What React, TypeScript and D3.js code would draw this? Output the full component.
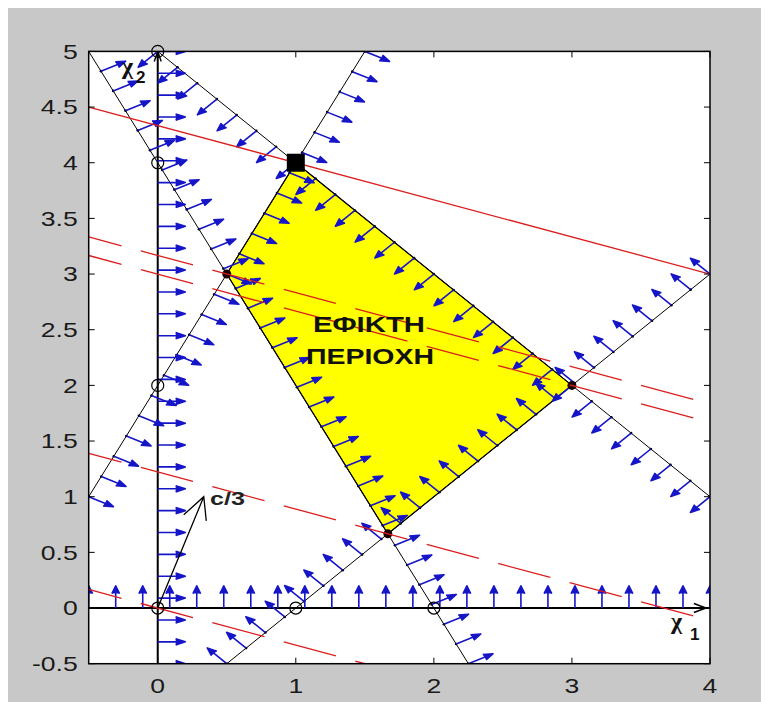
import * as d3 from "d3"

type Pt = [number, number]

// axes limits and ticks
const X_DOMAIN: Pt = [-0.5, 4]
const Y_DOMAIN: Pt = [-0.5, 5]
const xTickValues = [0, 1, 2, 3, 4]
const yTickValues = [-0.5, 0, 0.5, 1, 1.5, 2, 2.5, 3, 3.5, 4, 4.5, 5]

// constraints written as a1*x1 + a2*x2 <= b
const constraintA: Pt[] = [[-1, 0], [0, -1], [-2, -1], [-2, 1], [1, 1], [1, -1]]
const constraintB = [0, 0, -4, 2, 5, 1]

// feasible region corners, optimum, axis intercepts
const feasibleRegion: Pt[] = [[0.5, 3], [1, 4], [3, 2], [5 / 3, 2 / 3]]
const optimalPoint: Pt = [1, 4]
const cornerPoints: Pt[] = [[0.5, 3], [3, 2], [5 / 3, 2 / 3]]
const interceptPoints: Pt[] = [[0, 5], [0, 4], [0, 2], [0, 0], [1, 0], [2, 0]]

// objective c'x, optimum level and the other level lines
const costVector: Pt = [1, 3]
const optimalValue = 13
const contourValues = [9.5, 9, 11 / 3, 0]

const regionLabel = ["ΕΦΙΚΤΗ", "ΠΕΡΙΟΧΗ"]

const W = 761
const H = 694
const plotLeft = 80.7
const plotRight = 702
const plotTop = 43.4
const plotBottom = 655.7

const x = d3.scaleLinear().domain(X_DOMAIN).range([plotLeft, plotRight])
const y = d3.scaleLinear().domain(Y_DOMAIN).range([plotBottom, plotTop])

const STEP = 0.2 // spacing of the normal arrows along each line
const ARROW_LEN = 0.2

// ends of the line a.x = b inside the axes box
function clipToBox(a: Pt, b: number): Pt[] {
  const eps = 1e-9
  const pts: Pt[] = []
  if (Math.abs(a[1]) > eps) {
    for (const xv of X_DOMAIN) {
      const yv = (b - a[0] * xv) / a[1]
      if (yv >= Y_DOMAIN[0] - eps && yv <= Y_DOMAIN[1] + eps) pts.push([xv, yv])
    }
  }
  if (Math.abs(a[0]) > eps) {
    for (const yv of Y_DOMAIN) {
      const xv = (b - a[1] * yv) / a[0]
      if (xv >= X_DOMAIN[0] - eps && xv <= X_DOMAIN[1] + eps) pts.push([xv, yv])
    }
  }
  const uniq: Pt[] = []
  pts.forEach((p) => {
    if (!uniq.some((q) => Math.abs(q[0] - p[0]) < 1e-6 && Math.abs(q[1] - p[1]) < 1e-6)) uniq.push(p)
  })
  return uniq.sort((p, q) => p[0] - q[0] || p[1] - q[1])
}

const P = (p: Pt) => `${x(p[0]).toFixed(2)},${y(p[1]).toFixed(2)}`

// matlab quiver style arrow (head computed in data units)
function quiverPath(base: Pt, vec: Pt, alpha: number, beta: number) {
  const [u, v] = vec
  const tip: Pt = [base[0] + u, base[1] + v]
  const b1: Pt = [tip[0] - alpha * (u + beta * v), tip[1] - alpha * (v - beta * u)]
  const b2: Pt = [tip[0] - alpha * (u - beta * v), tip[1] - alpha * (v + beta * u)]
  return `M${P(base)}L${P(tip)}M${P(b1)}L${P(tip)}L${P(b2)}`
}

function headPx(tip: Pt, dir: Pt, len: number, half: number) {
  const tx = x(tip[0])
  const ty = y(tip[1])
  const dx = dir[0]
  const dy = -dir[1]
  const bx = tx - dx * len
  const by = ty - dy * len
  return `M${bx - dy * half},${by + dx * half}L${tx},${ty}L${bx + dy * half},${by - dx * half}`
}

const constraints = constraintA.map((a, i) => {
  const seg = clipToBox(a, constraintB[i])
  const [p0, p1] = seg
  const len = Math.hypot(p1[0] - p0[0], p1[1] - p0[1])
  const n = Math.round(len / STEP)
  const norm = Math.hypot(a[0], a[1])
  const vec: Pt = [(-a[0] / norm) * ARROW_LEN, (-a[1] / norm) * ARROW_LEN]
  const bases: Pt[] = d3.range(n + 1).map((k) => [p0[0] + ((p1[0] - p0[0]) * k) / n, p0[1] + ((p1[1] - p0[1]) * k) / n])
  return { seg, bases, vec, isAxis: a[0] === 0 || a[1] === 0 }
})

const objA: Pt = costVector
const solidLine = clipToBox(objA, optimalValue)
const dashedLines = contourValues.map((c) => clipToBox(objA, c))
const cOver3: Pt = [costVector[0] / 3, costVector[1] / 3]

const line = d3.line<Pt>().x((d) => x(d[0])).y((d) => y(d[1]))

const blue = "#1616c8"
const red = "#dc1e1e"
const font = "'Liberation Sans', Arial, sans-serif"

export default function App() {
  return (
    <svg width={W} height={H} style={{ display: "block" }}>
      <defs>
        <clipPath id="plot-area">
          <rect x={plotLeft} y={plotTop} width={plotRight - plotLeft} height={plotBottom - plotTop} />
        </clipPath>
      </defs>
      <rect x={0} y={0} width={W} height={H} fill="#c8c8c8" />
      <rect x={plotLeft} y={plotTop} width={plotRight - plotLeft} height={plotBottom - plotTop} fill="#fff" />

      <g clipPath="url(#plot-area)">
        {/* feasible region */}
        <path d={line(feasibleRegion) + "Z"} fill="#ffff00" stroke="#000" strokeWidth={1.2} />

        {/* constraint lines */}
        {constraints.map((c, i) => (
          <path
            key={"cl" + i}
            d={line(c.seg) as string}
            fill="none"
            stroke="#000"
            strokeWidth={c.isAxis ? 2 : 1}
          />
        ))}
        {constraints.map((c, i) =>
          c.isAxis
            ? null
            : c.bases.map((b, k) => <circle key={"d" + i + "-" + k} cx={x(b[0])} cy={y(b[1])} r={1.3} fill="#000" />),
        )}

        {/* normal arrows */}
        {constraints.map((c, i) =>
          c.bases.map((b, k) => (
            <path
              key={"q" + i + "-" + k}
              d={quiverPath(b, c.vec, 0.35, 0.4)}
              fill={blue}
              stroke={blue}
              strokeWidth={1.6}
              strokeLinejoin="round"
            />
          )),
        )}

        {/* axis arrow heads */}
        <path d={headPx([3.97, 0], [1, 0], 12, 4.5)} fill="none" stroke="#000" strokeWidth={1.6} />
        <path d={headPx([0, 5], [0, 1], 10, 3.5)} fill="none" stroke="#000" strokeWidth={1.4} />
      </g>

      {/* vertices */}
      {cornerPoints.map((p, i) => (
        <circle key={"v" + i} cx={x(p[0])} cy={y(p[1])} r={4.5} fill="#1a0000" />
      ))}

      <g clipPath="url(#plot-area)">
        {/* level lines of the objective */}
        <path d={line(solidLine) as string} fill="none" stroke={red} strokeWidth={1.3} />
        {dashedLines.map((seg, i) => (
          <path
            key={"dl" + i}
            d={line(seg) as string}
            fill="none"
            stroke={red}
            strokeWidth={1.3}
            strokeDasharray="54 20"
            strokeDashoffset={20}
          />
        ))}

        {/* c/3 */}
        <path d={quiverPath([0, 0], cOver3, 0.19, 0.43)} fill="none" stroke="#000" strokeWidth={1.3} />
      </g>

      {/* intercept circles */}
      {interceptPoints.map((p, i) => (
        <circle key={"o" + i} cx={x(p[0])} cy={y(p[1])} r={6} fill="none" stroke="#000" strokeWidth={1.2} />
      ))}

      {/* optimum */}
      <rect x={x(optimalPoint[0]) - 9} y={y(optimalPoint[1]) - 9} width={18} height={18} fill="#000" />

      {/* axes box and ticks */}
      <rect
        x={plotLeft}
        y={plotTop}
        width={plotRight - plotLeft}
        height={plotBottom - plotTop}
        fill="none"
        stroke="#000"
        strokeWidth={1.5}
      />
      {xTickValues.map((v) => (
        <g key={"xt" + v}>
          <line x1={x(v)} x2={x(v)} y1={plotBottom} y2={plotBottom - 6} stroke="#000" />
          <line x1={x(v)} x2={x(v)} y1={plotTop} y2={plotTop + 6} stroke="#000" />
          <text
            transform={`translate(${x(v)},${plotBottom + 29}) scale(1.33,1)`}
            textAnchor="middle"
            fontFamily={font}
            fontSize={20}
            fill="#1a1a1a"
          >
            {String(v)}
          </text>
        </g>
      ))}
      {yTickValues.map((v) => (
        <g key={"yt" + v}>
          <line x1={plotLeft} x2={plotLeft + 6} y1={y(v)} y2={y(v)} stroke="#000" />
          <line x1={plotRight} x2={plotRight - 6} y1={y(v)} y2={y(v)} stroke="#000" />
          <text
            transform={`translate(${plotLeft - 11},${y(v)}) scale(1.33,1)`}
            textAnchor="end"
            dy="0.36em"
            fontFamily={font}
            fontSize={20}
            fill="#1a1a1a"
          >
            {String(v)}
          </text>
        </g>
      ))}

      {/* labels */}
      <text x={305} y={324} fontFamily={font} fontWeight="bold" fontSize={22} fill="#111" textLength={112} lengthAdjust="spacingAndGlyphs">
        {regionLabel[0]}
      </text>
      <text x={298} y={356} fontFamily={font} fontWeight="bold" fontSize={22} fill="#111" textLength={128} lengthAdjust="spacingAndGlyphs">
        {regionLabel[1]}
      </text>
      <text x={202} y={497} fontFamily={font} fontWeight="bold" fontSize={18} fill="#222" textLength={35} lengthAdjust="spacingAndGlyphs">
        c/3
      </text>
      <text x={114} y={66} fontFamily="'Liberation Serif', serif" fontWeight="bold" fontSize={24} fill="#111">
        χ
      </text>
      <text x={128} y={75} fontFamily={font} fontWeight="bold" fontSize={17} fill="#111">
        2
      </text>
      <text x={663} y={621} fontFamily="'Liberation Serif', serif" fontWeight="bold" fontSize={24} fill="#111">
        χ
      </text>
      <text x={682} y={632} fontFamily={font} fontWeight="bold" fontSize={17} fill="#111">
        1
      </text>
    </svg>
  )
}
